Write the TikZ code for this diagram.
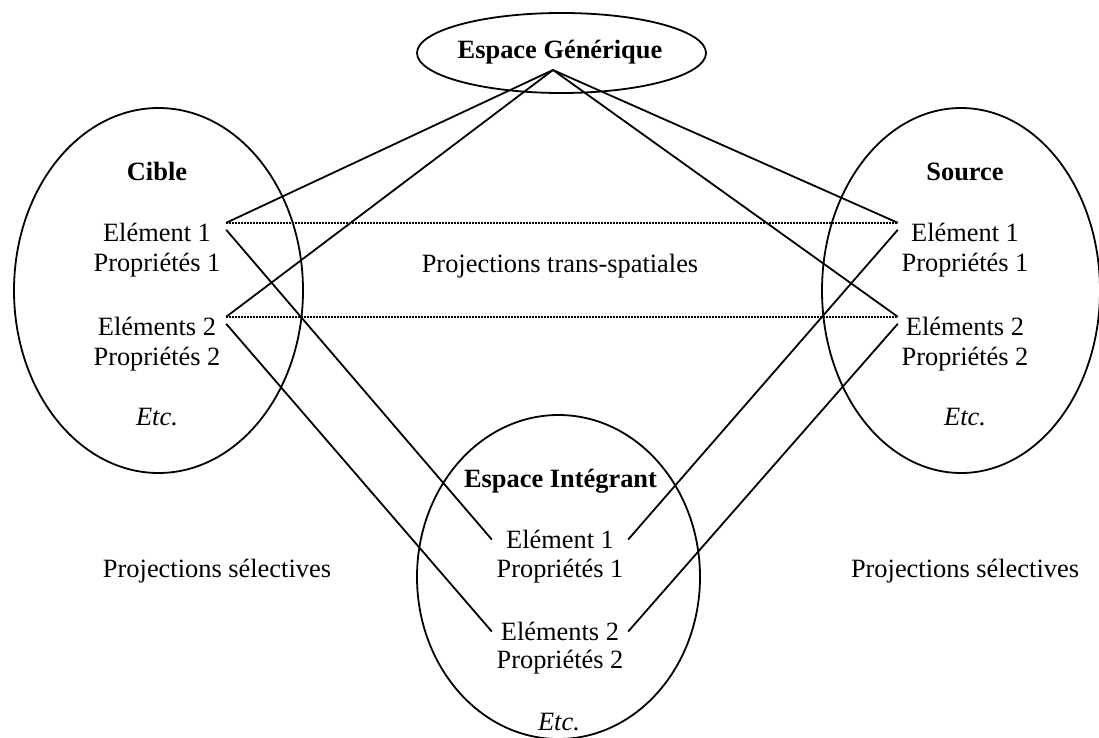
\documentclass[tikz,border=0pt]{standalone}
\usepackage{fontspec}
\setmainfont{Liberation Serif}
\usetikzlibrary{shapes.geometric}
\begin{document}
\begin{tikzpicture}[x=1pt,y=-1pt,
  txt/.style={anchor=base,inner sep=0pt,font=\fontsize{26.4}{30}\selectfont},
  head/.style={txt,font=\fontsize{26.4}{30}\selectfont\bfseries},
  etc/.style={txt,font=\fontsize{26.4}{30}\selectfont\itshape},
  item/.style={txt,text height=18pt,text depth=5pt,minimum width=#1},
  item/.default=138pt,
  space/.style={ellipse,draw,line width=1.8pt,inner sep=0pt,outer sep=0pt},
  link/.style={line width=1.8pt},
  trans/.style={line width=1.4pt,dash pattern=on 1.4pt off 1.6pt}]
\useasboundingbox (0,0) rectangle (1099,738);

% the four mental spaces
\node[space,minimum width=289pt,minimum height=80pt]  (gen)  at (561.5,53)  {};
\node[space,minimum width=289pt,minimum height=365pt] (cib)  at (158.5,290.5) {};
\node[space,minimum width=278pt,minimum height=365pt] (src)  at (961,290.5) {};
\node[space,minimum width=283pt,minimum height=324pt] (intg) at (558.5,577) {};

% generic space
\node[head] (genT) at (560,59) {Espace Générique};
\coordinate (apex) at (553,70);

% target space
\node[head] (cibT) at (157,180) {Cible};
\node[item] (cE1) at (157,241) {Elément 1};
\node[txt]  (cP1) at (157,271) {Propriétés 1};
\node[item] (cE2) at (157,335) {Eléments 2};
\node[txt]  (cP2) at (157,365) {Propriétés 2};
\node[etc]  (cEt) at (157,425) {Etc.};

% source space
\node[head] (srcT) at (965,180) {Source};
\node[item=134pt] (sE1) at (965,241) {Elément 1};
\node[txt]  (sP1) at (965,271) {Propriétés 1};
\node[item=134pt] (sE2) at (965,335) {Eléments 2};
\node[txt]  (sP2) at (965,365) {Propriétés 2};
\node[etc]  (sEt) at (965,425) {Etc.};

% blended space
\node[head] (intT) at (560.5,487) {Espace Intégrant};
\node[item=136pt] (iE1) at (560,548) {Elément 1};
\node[txt]  (iP1) at (560,577) {Propriétés 1};
\node[item=136pt] (iE2) at (560,640) {Eléments 2};
\node[txt]  (iP2) at (560,668) {Propriétés 2};
\node[etc]  (iEt) at (559,730) {Etc.};

% labels of the mappings
\node[txt] (ptrans) at (560,272) {Projections trans-spatiales};
\node[txt] (pselL)  at (217,577) {Projections sélectives};
\node[txt] (pselR)  at (965,577) {Projections sélectives};

% generic space to the input spaces
\draw[link] (apex) -- (cE1.north east);
\draw[link] (apex) -- (cE2.north east);
\draw[link] (apex) -- (sE1.north west);
\draw[link] (apex) -- (sE2.north west);

% cross-space mappings
\draw[trans] (cE1.north east) -- (sE1.north west);
\draw[trans] (cE2.north east) -- (sE2.north west);

% selective projections into the blend
\draw[link] ([yshift=-7pt]cE1.north east) -- ([yshift=2pt]iE1.west);
\draw[link] ([yshift=-7pt]cE2.north east) -- ([yshift=2pt]iE2.west);
\draw[link] ([yshift=-7pt]sE1.north west) -- ([yshift=2pt]iE1.east);
\draw[link] ([yshift=-7pt]sE2.north west) -- ([yshift=2pt]iE2.east);
\end{tikzpicture}
\end{document}
